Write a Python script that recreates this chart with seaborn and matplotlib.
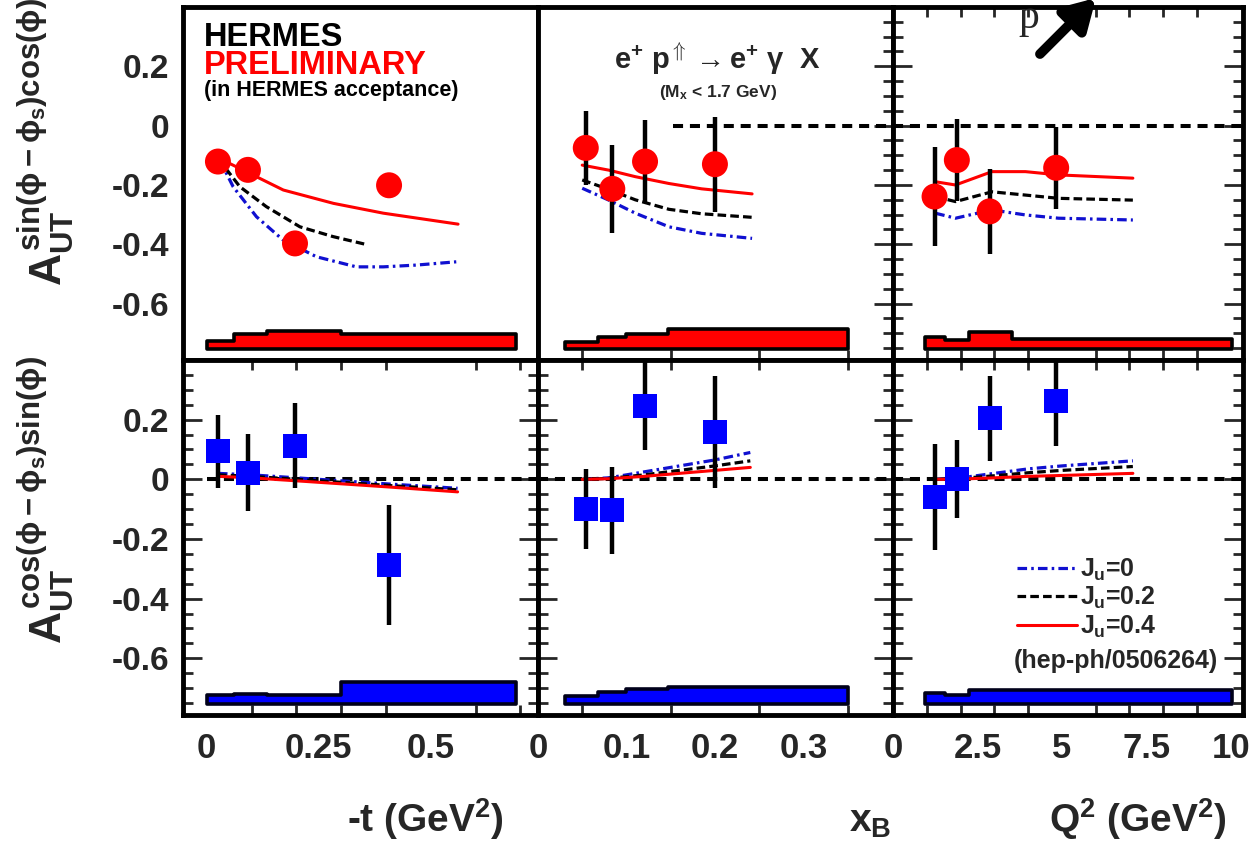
import numpy as np
import pandas as pd
import matplotlib
matplotlib.use("Agg")
import matplotlib.pyplot as plt
from matplotlib.lines import Line2D
from matplotlib.ticker import MultipleLocator
import seaborn as sns

# ---------------- data ----------------
# x positions of the data points
t_pts = [0.025, 0.092, 0.197, 0.407]
xb_pts = [0.054, 0.084, 0.121, 0.200]
q2_pts = [1.23, 1.89, 2.86, 4.83]

# A_UT^{sin(phi-phi_s)cos(phi)}
t_sin = [-0.121, -0.149, -0.397, -0.201]
xb_sin = [-0.075, -0.213, -0.121, -0.130]
xb_sin_err = [0.125, 0.149, 0.140, 0.160]
q2_sin = [-0.239, -0.116, -0.289, -0.142]
q2_sin_err = [0.168, 0.138, 0.143, 0.138]

# A_UT^{cos(phi-phi_s)sin(phi)}
t_cos = [0.094, 0.022, 0.113, -0.287]
t_cos_err = [0.123, 0.129, 0.143, 0.202]
xb_cos = [-0.100, -0.103, 0.247, 0.158]
xb_cos_err = [0.134, 0.146, 0.150, 0.188]
q2_cos = [-0.060, 0.000, 0.204, 0.261]
q2_cos_err = [0.177, 0.131, 0.143, 0.150]

# theory curves (J_u = 0, 0.2, 0.4), top row
t_th_x_j0 = [0.029, 0.059, 0.111, 0.170, 0.245, 0.334, 0.394, 0.468, 0.557]
t_th_j0 = [-0.116, -0.206, -0.307, -0.385, -0.442, -0.476, -0.476, -0.470, -0.459]
t_th_x_j2 = [0.025, 0.074, 0.133, 0.208, 0.282, 0.360]
t_th_j2 = [-0.110, -0.206, -0.273, -0.341, -0.374, -0.402]
t_th_x_j4 = [0.021, 0.096, 0.171, 0.283, 0.394, 0.561]
t_th_j4 = [-0.105, -0.161, -0.217, -0.262, -0.295, -0.332]

xb_th_x = [0.050, 0.080, 0.110, 0.148, 0.185, 0.242]
xb_th_j0 = [-0.211, -0.251, -0.295, -0.341, -0.363, -0.380]
xb_th_j2 = [-0.183, -0.215, -0.250, -0.282, -0.297, -0.309]
xb_th_j4 = [-0.133, -0.150, -0.172, -0.195, -0.213, -0.230]

q2_th_x = [1.25, 1.85, 2.93, 3.92, 4.90, 7.10]
q2_th_j0 = [-0.295, -0.312, -0.284, -0.301, -0.312, -0.318]
q2_th_j2 = [-0.239, -0.256, -0.223, -0.234, -0.245, -0.251]
q2_th_j4 = [-0.189, -0.200, -0.155, -0.155, -0.166, -0.177]

# theory curves, bottom row
tc_th_x = [0.025, 0.10, 0.20, 0.30, 0.40, 0.56]
tc_th_j0 = [0.020, 0.015, 0.005, -0.005, -0.015, -0.030]
tc_th_j2 = [0.015, 0.010, 0.000, -0.010, -0.020, -0.035]
tc_th_j4 = [0.010, 0.005, -0.005, -0.015, -0.025, -0.042]

xbc_th_x = [0.05, 0.08, 0.12, 0.16, 0.20, 0.24]
xbc_th_j0 = [0.000, 0.005, 0.025, 0.045, 0.065, 0.090]
xbc_th_j2 = [0.000, 0.003, 0.015, 0.030, 0.045, 0.062]
xbc_th_j4 = [0.000, 0.002, 0.010, 0.020, 0.030, 0.040]

q2c_th_x = [1.25, 2.0, 3.0, 4.0, 5.0, 7.1]
q2c_th_j0 = [0.000, 0.005, 0.020, 0.035, 0.045, 0.062]
q2c_th_j2 = [0.000, 0.003, 0.012, 0.022, 0.030, 0.043]
q2c_th_j4 = [0.000, 0.001, 0.005, 0.010, 0.013, 0.020]

# systematic-error bands (bin edges and heights above baseline)
sys_base = -0.752
t_edges = [0.0, 0.06, 0.135, 0.30, 0.69]
t_sys_sin = [0.027, 0.050, 0.060, 0.050]
t_sys_cos = [0.028, 0.034, 0.028, 0.073]
xb_edges = [0.030, 0.068, 0.099, 0.147, 0.350]
xb_sys_sin = [0.022, 0.039, 0.050, 0.067]
xb_sys_cos = [0.026, 0.039, 0.050, 0.056]
q2_edges = [0.95, 1.54, 2.25, 3.52, 10.03]
q2_sys_sin = [0.040, 0.028, 0.056, 0.034]
q2_sys_cos = [0.037, 0.028, 0.045, 0.045]

# axis settings
xlims = [(-0.053, 0.7395), (0.0, 0.4013), (0.0, 10.36)]
ylims = (-0.79, 0.40)
xtick_vals = [[0, 0.25, 0.5], [0, 0.1, 0.2, 0.3], [0, 2.5, 5, 7.5, 10]]
xtick_labels = [["0", "0.25", "0.5"], ["0", "0.1", "0.2", "0.3"], ["0", "2.5", "5", "7.5", "10"]]
xminor_step = [0.1, 0.05, 1.0]
ytick_vals = [0.2, 0.0, -0.2, -0.4, -0.6]
ytick_labels = ["0.2", "0", "-0.2", "-0.4", "-0.6"]
zero_start_top = [None, 0.153, 0.0]
legend_labels = [r"$J_u$=0", r"$J_u$=0.2", r"$J_u$=0.4"]

# ---------------- style ----------------
sns.set_style("white")
plt.rcParams["font.family"] = ["Liberation Sans", "DejaVu Sans"]
plt.rcParams["font.weight"] = "bold"
plt.rcParams["mathtext.fontset"] = "custom"
plt.rcParams["mathtext.rm"] = "Liberation Sans:bold"
plt.rcParams["mathtext.it"] = "Liberation Sans:bold"
plt.rcParams["mathtext.bf"] = "Liberation Sans:bold"
plt.rcParams["mathtext.sf"] = "Liberation Sans:bold"

RED = "#ff0000"
BLUE = "#0000ff"
LBLUE = "#1010d0"
ls_j0 = (0, (3.0, 1.3, 0.8, 1.3))
ls_j2 = (0, (2.7, 1.3))
ls_j4 = "-"

W, H = 1256, 843
fig = plt.figure(figsize=(W / 100, H / 100), dpi=100)


def rect(x0, x1, y0, y1):
    return [x0 / W, 1 - y1 / H, (x1 - x0) / W, (y1 - y0) / H]


def fpos(x, y):
    return (x / W, 1 - y / H)


cols_px = [(183, 538), (538, 893), (893, 1243)]
rows_px = [(7, 360), (360, 715)]

top_data = [
    (t_pts, t_sin, None, (t_th_x_j0, t_th_j0), (t_th_x_j2, t_th_j2), (t_th_x_j4, t_th_j4), t_edges, t_sys_sin),
    (xb_pts, xb_sin, xb_sin_err, (xb_th_x, xb_th_j0), (xb_th_x, xb_th_j2), (xb_th_x, xb_th_j4), xb_edges, xb_sys_sin),
    (q2_pts, q2_sin, q2_sin_err, (q2_th_x, q2_th_j0), (q2_th_x, q2_th_j2), (q2_th_x, q2_th_j4), q2_edges, q2_sys_sin),
]
bot_data = [
    (t_pts, t_cos, t_cos_err, (tc_th_x, tc_th_j0), (tc_th_x, tc_th_j2), (tc_th_x, tc_th_j4), t_edges, t_sys_cos),
    (xb_pts, xb_cos, xb_cos_err, (xbc_th_x, xbc_th_j0), (xbc_th_x, xbc_th_j2), (xbc_th_x, xbc_th_j4), xb_edges, xb_sys_cos),
    (q2_pts, q2_cos, q2_cos_err, (q2c_th_x, q2c_th_j0), (q2c_th_x, q2c_th_j2), (q2c_th_x, q2c_th_j4), q2_edges, q2_sys_cos),
]

axes = {}
for r, rowdata in enumerate([top_data, bot_data]):
    for c in range(3):
        ax = fig.add_axes(rect(cols_px[c][0], cols_px[c][1], rows_px[r][0], rows_px[r][1]))
        axes[(r, c)] = ax
        x, y, yerr, th0, th2, th4, edges, sysv = rowdata[c]
        ax.set_xlim(*xlims[c])
        ax.set_ylim(*ylims)

        # systematic band
        vals = list(sysv) + [sysv[-1]]
        tops = [sys_base + v for v in vals]
        ax.fill_between(edges, sys_base, tops, step="post",
                        facecolor=RED if r == 0 else BLUE,
                        edgecolor="black" if r == 0 else "#00001a",
                        linewidth=2.6, zorder=2)

        # zero line
        zs = zero_start_top[c] if r == 0 else 0.0
        if zs is not None:
            ax.hlines(0, zs, xlims[c][1], colors="black", linewidth=2.9,
                      linestyles=[(0, (2.5, 1.7))], zorder=1)

        # theory curves
        sns.lineplot(x=th0[0], y=th0[1], ax=ax, color=LBLUE, linewidth=2.3,
                     linestyle=ls_j0, legend=False, zorder=3)
        sns.lineplot(x=th2[0], y=th2[1], ax=ax, color="black", linewidth=2.3,
                     linestyle=ls_j2, legend=False, zorder=3)
        sns.lineplot(x=th4[0], y=th4[1], ax=ax, color=RED, linewidth=2.2,
                     linestyle=ls_j4, legend=False, zorder=3)

        # data points
        if yerr is not None:
            ax.errorbar(x, y, yerr=yerr, fmt="none", ecolor="black",
                        elinewidth=3.2, capsize=0, zorder=4)
        if r == 0:
            sns.scatterplot(x=x, y=y, ax=ax, color=RED, marker="o", s=350,
                            edgecolor="none", zorder=5, legend=False)
        else:
            sns.scatterplot(x=x, y=y, ax=ax, color=BLUE, marker="s", s=300,
                            edgecolor="none", zorder=5, legend=False)

        # frame & ticks
        for sp in ax.spines.values():
            sp.set_linewidth(3.5)
            sp.set_color("black")
            sp.set_visible(True)
        ax.set_xticks(xtick_vals[c])
        ax.set_xticklabels(xtick_labels[c] if r == 1 else [])
        ax.xaxis.set_minor_locator(MultipleLocator(xminor_step[c]))
        ax.set_yticks(ytick_vals)
        ax.set_yticklabels(ytick_labels if c == 0 else [])
        ax.yaxis.set_minor_locator(MultipleLocator(0.05))
        show = not (r == 0 and c == 0)
        top_on = show and not (r == 0 and c == 1)
        left_on = show and not (r == 0 and c == 1)
        ax.tick_params(axis="both", which="major", direction="in",
                       length=0, width=2, top=top_on, right=show,
                       bottom=show, left=left_on, labelsize=24, pad=10)
        ax.tick_params(axis="x", which="major", labelsize=25, pad=12)
        ax.tick_params(axis="y", which="major", length=14 if show else 0)
        ax.tick_params(axis="both", which="minor", direction="in",
                       length=7 if show else 0, width=2, top=top_on, right=show,
                       bottom=show, left=left_on)
        ax.set_xlabel("")
        ax.set_ylabel("")
        for lab in ax.get_xticklabels() + ax.get_yticklabels():
            lab.set_fontweight("bold")

# legend in the lower-right panel
handles = [Line2D([], [], color=LBLUE, linewidth=2.3, linestyle=ls_j0),
           Line2D([], [], color="black", linewidth=2.3, linestyle=ls_j2),
           Line2D([], [], color=RED, linewidth=2.2, linestyle=ls_j4)]
leg = axes[(1, 2)].legend(handles, legend_labels, loc="upper left",
                          bbox_to_anchor=(0.355, 0.445), frameon=False,
                          fontsize=18, handlelength=2.4, handletextpad=0.1,
                          labelspacing=0.08, borderpad=0, borderaxespad=0)
for tx in leg.get_texts():
    tx.set_fontweight("bold")

# ---------------- texts ----------------
fig.text(*fpos(204, 46), "HERMES", fontsize=23.5, fontweight="bold", color="black", va="baseline")
fig.text(*fpos(204, 74), "PRELIMINARY", fontsize=23.5, fontweight="bold", color=RED, va="baseline")
fig.text(*fpos(204, 96), "(in HERMES acceptance)", fontsize=15.5, fontweight="bold", color="black", va="baseline")

fig.text(*fpos(717, 69), r"e$^{+}$ p$^{\Uparrow}$$\rightarrow$e$^{+}$ $\gamma$  X", fontsize=21,
         fontweight="bold", ha="center", va="baseline")
fig.text(*fpos(718, 97), r"(M$_{x}$ < 1.7 GeV)", fontsize=12.5, fontweight="bold",
         ha="center", va="baseline")

fig.text(*fpos(1116, 668), "(hep-ph/0506264)", fontsize=18, fontweight="bold",
         ha="center", va="baseline")

# y-axis titles
fig.text(*fpos(46, 142), r"$A_{UT}^{\sin(\phi-\phi_s)\cos(\phi)}$", fontsize=32,
         rotation=90, ha="center", va="center")
fig.text(*fpos(46, 500), r"$A_{UT}^{\cos(\phi-\phi_s)\sin(\phi)}$", fontsize=32,
         rotation=90, ha="center", va="center")

# x-axis titles
fig.text(*fpos(425, 832), r"-t (GeV$^{2}$)", fontsize=28, fontweight="bold", ha="center", va="baseline")
fig.text(*fpos(870, 832), r"x$_{B}$", fontsize=28, fontweight="bold", ha="center", va="baseline")
fig.text(*fpos(1138, 832), r"Q$^{2}$ (GeV$^{2}$)", fontsize=28, fontweight="bold", ha="center", va="baseline")

# stray "p" with arrow at the top of the right panel
fig.text(*fpos(1018, 28), "p", fontsize=30, family="Liberation Serif", fontweight="normal",
         va="baseline")
fig.add_artist(matplotlib.patches.FancyArrowPatch(
    fpos(1038, 56), fpos(1098, -4), transform=fig.transFigure,
    arrowstyle="-|>,head_length=12,head_width=7", mutation_scale=1.5,
    color="black", linewidth=7))

fig.savefig("out.png", dpi=100, facecolor="white")
